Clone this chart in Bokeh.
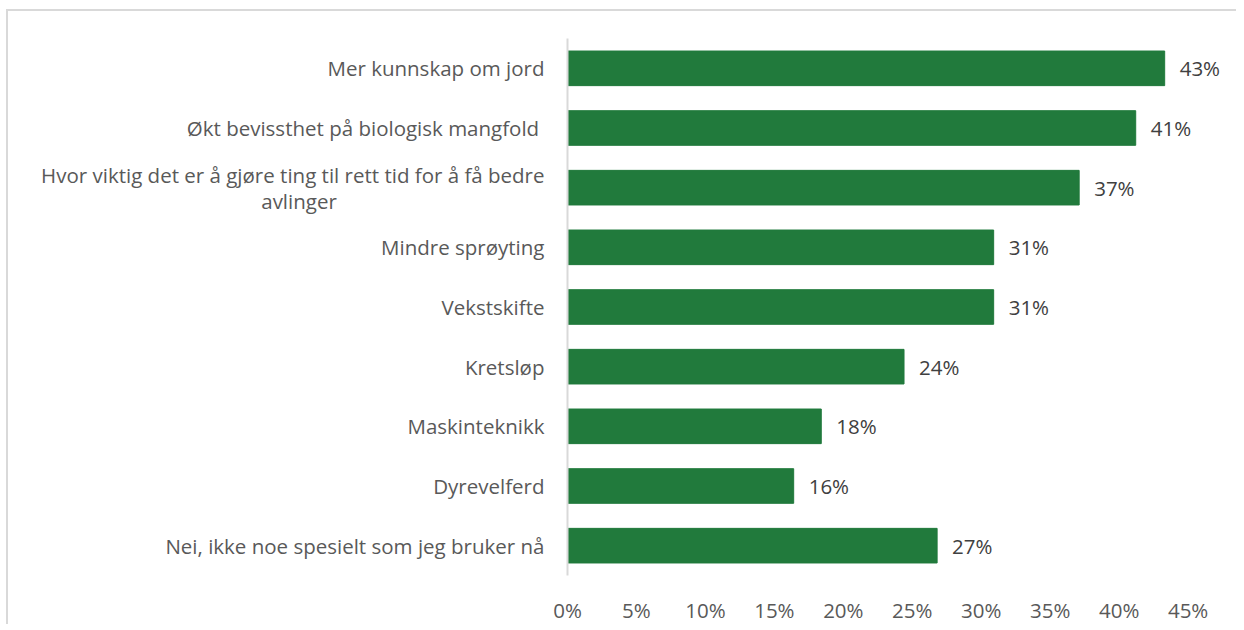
from bokeh.plotting import figure
from bokeh.models import ColumnDataSource, FactorRange, Range1d, FixedTicker, NumeralTickFormatter, LabelSet
from bokeh.core.properties import value
from bokeh.embed import file_html
from bokeh.resources import INLINE

NBSP = "\u00a0"
categories = [
    "Mer kunnskap om jord",
    "Økt bevissthet på biologisk mangfold ",
    "Hvor viktig det er å gjøre ting til rett tid for å få bedre\navlinger" + NBSP * 39,
    "Mindre sprøyting",
    "Vekstskifte",
    "Kretsløp",
    "Maskinteknikk",
    "Dyrevelferd",
    "Nei, ikke noe spesielt som jeg bruker nå",
]
values = [0.433, 0.412, 0.371, 0.309, 0.309, 0.244, 0.184, 0.164, 0.268]
value_labels = ["43%", "41%", "37%", "31%", "31%", "24%", "18%", "16%", "27%"]
x_ticks = [0, 0.05, 0.10, 0.15, 0.20, 0.25, 0.30, 0.35, 0.40, 0.45]

FONT = "Open Sans"
FS = "20.5px"
GREY = "#595959"

src = ColumnDataSource(dict(cat=categories, val=values, lab=value_labels))

p = figure(
    width=1230, height=615,
    y_range=FactorRange(factors=list(reversed(categories)), range_padding=0),
    x_range=Range1d(0, 0.48),
    output_backend="svg", toolbar_location=None,
    min_border_left=559, min_border_right=9, min_border_top=27, min_border_bottom=49,
    styles={"border-top": "2px solid #D9D9D9", "border-left": "2px solid #D9D9D9",
            "margin-top": "9px", "margin-left": "6px"},
)
p.outline_line_color = None
p.xgrid.visible = False
p.ygrid.visible = False

p.hbar(y="cat", right="val", left=0, height=0.58, source=src,
       fill_color="#217A3C", line_color="#217A3C")

labels = LabelSet(x="val", y="cat", text="lab", source=src, x_offset=15,
                  text_baseline="middle", text_align="left",
                  text_font=value(FONT), text_font_size=FS, text_color="#404040")
p.add_layout(labels)

xa = p.xaxis[0]
xa.ticker = FixedTicker(ticks=x_ticks)
xa.formatter = NumeralTickFormatter(format="0%")
xa.axis_line_color = None
xa.major_tick_line_color = None
xa.minor_tick_line_color = None
xa.major_label_standoff = 14
xa.major_label_text_font = FONT
xa.major_label_text_font_size = FS
xa.major_label_text_color = GREY

ya = p.yaxis[0]
ya.axis_line_color = "#D9D9D9"
ya.axis_line_width = 2
ya.major_tick_line_color = None
ya.minor_tick_line_color = None
ya.major_tick_out = 0
ya.major_label_standoff = 23
ya.major_label_text_font = FONT
ya.major_label_text_font_size = FS
ya.major_label_text_color = GREY
ya.major_label_text_line_height = 0.93

open("out.html", "w").write(file_html(p, INLINE))
